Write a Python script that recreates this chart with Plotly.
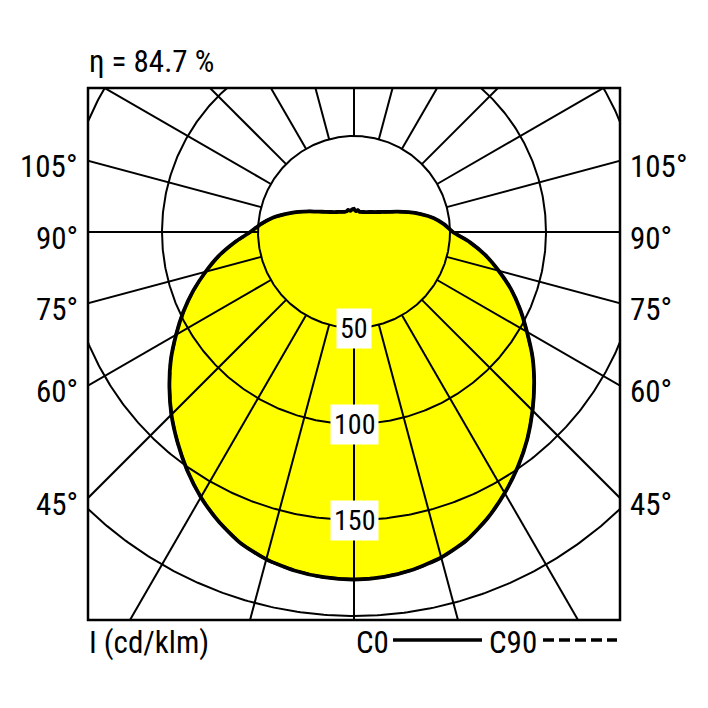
import numpy as np
import plotly.graph_objects as go

# ---------------- data ----------------
gamma = [0, 5, 10, 15, 20, 25, 30, 35, 40, 45, 50, 55, 60, 65, 70, 75, 80, 85, 90,
         95, 100, 105, 110, 115, 120, 125, 130, 135, 140, 145, 150, 155, 160, 165, 170, 175, 180]
# C0 plane (right half), cd/klm
I_C0 = [181, 180.3, 178.5, 175.5, 171, 164.5, 157, 149, 140.5, 131.5, 122.5, 113.5, 104,
        95.5, 87, 78, 69.5, 60.5, 51.5,
        47, 42, 36, 30.2, 25, 21, 18.2, 16.2, 14.7, 13.6, 12.7, 12, 11.5, 11.1, 10.9, 11.6, 10.9, 12.0]
# C180 plane (left half), cd/klm
I_C180 = [181, 180.5, 179, 176.5, 172.5, 166.5, 159.5, 151.5, 143, 134.5, 125.5, 116.5, 107,
          98, 89, 80, 71.5, 62.5, 54,
          48.5, 43, 36.5, 30.7, 25.5, 21.2, 18.3, 16.2, 14.7, 13.6, 12.8, 12.1, 11.6, 11.4, 11.9, 11.2, 11.8, 12.0]
# C90 / C270 planes (dashed) coincide with C0 / C180
I_C90 = list(I_C0)
I_C270 = list(I_C180)

grid_radii = [50, 100, 150, 200]
radial_step = 15
circle_labels = [50, 100, 150]
angle_labels = [45, 60, 75, 90, 105]
eta_text = "η = 84.7 %"
unit_text = "I (cd/klm)"

# ---------------- geometry (page pixels; page has an 8px body margin) ----------------
OFF = 8
W = H = 700
BOX_L, BOX_T, BOX = 88, 88, 532          # plot box on the page
L = BOX_L - OFF
T = BOX_T - OFF
R = W - L - BOX
B = H - T - BOX
scale = 1.92           # px per cd/klm
cx_px = 266            # centre offset from left edge of plot box
cy_px = 144            # centre offset from top edge of plot box
xr = [-cx_px / scale, (BOX - cx_px) / scale]
yr = [-(BOX - cy_px) / scale, cy_px / scale]


def px(xp):   # page x -> paper
    return (xp - BOX_L) / BOX


def py(yp):   # page y -> paper
    return (BOX_T + BOX - yp) / BOX


g = np.radians(np.array(gamma, dtype=float))


def half(vals, side):
    v = np.array(vals, dtype=float)
    return side * v * np.sin(g), -v * np.cos(g)


xr0, yr0 = half(I_C0, 1)
xl0, yl0 = half(I_C180, -1)
poly_x = np.concatenate([xr0, xl0[::-1]])
poly_y = np.concatenate([yr0, yl0[::-1]])

x90, y90 = half(I_C90, 1)
x270, y270 = half(I_C270, -1)
dash_x = np.concatenate([x90, x270[::-1]])
dash_y = np.concatenate([y90, y270[::-1]])

fig = go.Figure()

# yellow fill
fig.add_trace(go.Scatter(x=poly_x, y=poly_y, mode="lines", fill="toself",
                         fillcolor="#FFFF00", line=dict(width=0, color="#FFFF00", shape="spline", smoothing=0.6),
                         hoverinfo="skip", showlegend=False))

# grid circles
t = np.linspace(0, 2 * np.pi, 721)
gx, gy = [], []
for rr in grid_radii:
    gx += list(rr * np.cos(t)) + [None]
    gy += list(rr * np.sin(t)) + [None]
# radial lines from r=50 outward
for a in range(0, 360, radial_step):
    ar = np.radians(a)
    gx += [50 * np.sin(ar), 400 * np.sin(ar), None]
    gy += [-50 * np.cos(ar), -400 * np.cos(ar), None]
fig.add_trace(go.Scatter(x=gx, y=gy, mode="lines", line=dict(color="black", width=2),
                         hoverinfo="skip", showlegend=False))

# C90 dashed
fig.add_trace(go.Scatter(x=dash_x, y=dash_y, mode="lines",
                         line=dict(color="black", width=3, dash="11px,5px", shape="spline", smoothing=0.6),
                         hoverinfo="skip", showlegend=False))
# C0 solid
fig.add_trace(go.Scatter(x=poly_x, y=poly_y, mode="lines",
                         line=dict(color="black", width=3.8, shape="spline", smoothing=0.6),
                         hoverinfo="skip", showlegend=False))

FONT = "Roboto Condensed, DejaVu Sans Condensed, sans-serif"
FS = 31
ann = []
for v in circle_labels:
    ann.append(dict(x=0, y=-v, xref="x", yref="y", text=str(v), showarrow=False,
                    font=dict(family=FONT, size=FS - 3, color="black"),
                    bgcolor="white", borderpad=3, xanchor="center", yanchor="middle"))

for a in angle_labels:
    ar = np.radians(a)
    yl = xr[0] * np.cos(ar) / np.sin(ar)    # left edge intercept
    yrr = -xr[1] * np.cos(ar) / np.sin(ar)  # right edge intercept
    ann.append(dict(x=-9 / BOX, y=yl, xref="paper", yref="y", text=f"{a}°", showarrow=False,
                    font=dict(family=FONT, size=FS, color="black"), xanchor="right",
                    yanchor="middle", yshift=-6, borderpad=0))
    ann.append(dict(x=1 + 9 / BOX, y=yrr, xref="paper", yref="y", text=f"{a}°", showarrow=False,
                    font=dict(family=FONT, size=FS, color="black"), xanchor="left",
                    yanchor="middle", yshift=-6, borderpad=0))

ann.append(dict(x=0, y=py(61), xref="paper", yref="paper", text=eta_text,
                showarrow=False, font=dict(family=FONT, size=FS, color="black"),
                xanchor="left", yanchor="middle", borderpad=0))
ann.append(dict(x=0, y=py(642), xref="paper", yref="paper", text=unit_text,
                showarrow=False, font=dict(family=FONT, size=FS, color="black"),
                xanchor="left", yanchor="middle", borderpad=0))
ann.append(dict(x=px(355), y=py(642), xref="paper", yref="paper", text="C0",
                showarrow=False, font=dict(family=FONT, size=FS, color="black"),
                xanchor="left", yanchor="middle", borderpad=0))
ann.append(dict(x=px(488), y=py(642), xref="paper", yref="paper", text="C90",
                showarrow=False, font=dict(family=FONT, size=FS, color="black"),
                xanchor="left", yanchor="middle", borderpad=0))

shapes = [
    dict(type="rect", xref="paper", yref="paper", x0=0, x1=1, y0=0, y1=1,
         line=dict(color="black", width=2.5), layer="above"),
    dict(type="line", xref="paper", yref="paper", x0=px(393), x1=px(482),
         y0=py(640), y1=py(640), line=dict(color="black", width=3.5)),
    dict(type="line", xref="paper", yref="paper", x0=px(543), x1=px(617),
         y0=py(640), y1=py(640), line=dict(color="black", width=3.5, dash="11px,5px")),
]

fig.update_layout(
    width=W, height=H, autosize=False,
    margin=dict(l=L, r=R, t=T, b=B, pad=0),
    paper_bgcolor="white", plot_bgcolor="white",
    xaxis=dict(range=xr, visible=False, fixedrange=True),
    yaxis=dict(range=yr, visible=False, fixedrange=True),
    annotations=ann, shapes=shapes, showlegend=False,
)

fig.write_html("out.html")
